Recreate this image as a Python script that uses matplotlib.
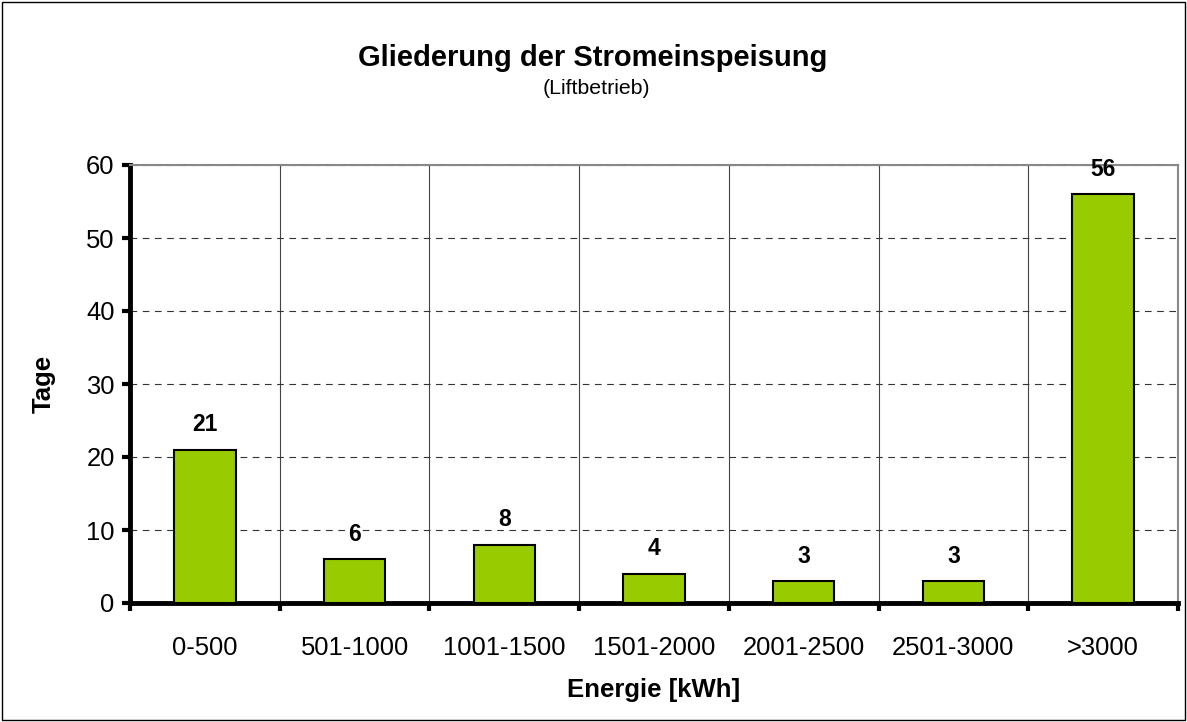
import matplotlib
matplotlib.use("Agg")
import matplotlib.pyplot as plt
from matplotlib.patches import Rectangle

plt.rcParams['font.family'] = ['Liberation Sans', 'DejaVu Sans']

categories = ["0-500", "501-1000", "1001-1500", "1501-2000", "2001-2500", "2501-3000", ">3000"]
values = [21, 6, 8, 4, 3, 3, 56]
yticks = [0, 10, 20, 30, 40, 50, 60]

fig = plt.figure(figsize=(11.87, 7.22), dpi=100)
fig.patches.append(Rectangle((0.002, 0.003), 0.996, 0.994, transform=fig.transFigure,
                             fill=False, edgecolor='black', linewidth=1.0))

ax = fig.add_axes([130/1187, 1-603/722, (1178-130)/1187, (603-165)/722])
n = len(categories)
x = list(range(n))
ax.bar(x, values, width=0.41, color='#99CC00', edgecolor='black', linewidth=1.5, zorder=3)

ax.set_xlim(-0.5, n - 0.5)
ax.set_ylim(0, 60)
ax.set_yticks(yticks)
ax.yaxis.grid(True, linestyle=(0, (6, 5)), color='#333333', linewidth=0.8, zorder=0)

for b in range(1, n):
    ax.axvline(b - 0.5, color='#444444', linewidth=0.8, zorder=1)

ax.set_xticks([i - 0.5 for i in range(n + 1)])
ax.set_xticklabels([])
ax.set_xticks(x, minor=True)
ax.set_xticklabels(categories, minor=True, fontsize=18.4)
ax.tick_params(axis='x', which='minor', length=0, pad=24)
ax.tick_params(axis='x', which='major', length=6, width=3, direction='out')
ax.tick_params(axis='y', length=6, width=3, direction='out', labelsize=18.4, pad=5)

for s in ['left', 'bottom']:
    ax.spines[s].set_linewidth(3.5)
    ax.spines[s].set_color('black')
for s in ['top', 'right']:
    ax.spines[s].set_linewidth(1.5)
    ax.spines[s].set_color('#888888')

for xi, v in zip(x, values):
    ax.annotate(str(v), (xi, v), xytext=(0, 18), textcoords='offset points',
                ha='center', va='center', fontsize=16.5, fontweight='bold')

ax.set_xlabel("Energie [kWh]", fontsize=18.5, fontweight='bold', labelpad=13)
ax.set_ylabel("Tage", fontsize=18.5, fontweight='bold', labelpad=22)

fig.text(593/1187, 1-58/722, "Gliederung der Stromeinspeisung", ha='center', va='center',
         fontsize=21, fontweight='bold')
fig.text(596/1187, 1-89/722, "(Liftbetrieb)", ha='center', va='center', fontsize=15.3)

fig.savefig("out.png", dpi=100)
